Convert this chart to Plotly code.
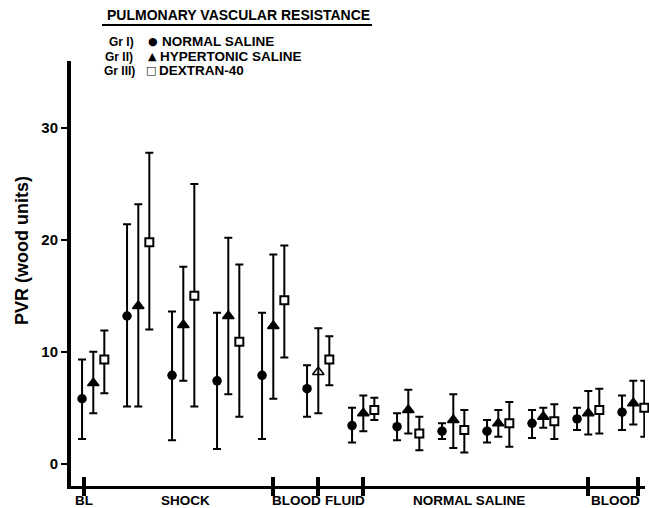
import plotly.graph_objects as go

# ---- data ----
timepoints = list(range(13))  # 13 measurement points along the protocol

gr1_mean = [5.8, 13.2, 7.9, 7.4, 7.9, 6.7, 3.4, 3.3, 2.9, 2.9, 3.6, 4.0, 4.6]
gr1_hi   = [9.3, 21.4, 13.6, 13.5, 13.5, 8.8, 5.0, 4.5, 3.6, 3.9, 4.8, 5.0, 6.1]
gr1_lo   = [2.2, 5.1, 2.1, 1.3, 2.2, 4.2, 1.9, 2.1, 2.2, 1.9, 2.3, 3.0, 3.0]

gr2_mean = [7.2, 14.1, 12.4, 13.2, 12.3, 8.2, 4.5, 4.8, 3.9, 3.6, 4.2, 4.5, 5.4]
gr2_hi   = [10.0, 23.2, 17.6, 20.2, 18.7, 12.1, 6.1, 6.6, 6.2, 4.8, 5.0, 6.5, 7.4]
gr2_lo   = [4.5, 5.1, 7.4, 6.2, 5.8, 4.5, 2.9, 2.7, 1.4, 2.4, 3.2, 2.6, 3.5]

gr3_mean = [9.3, 19.8, 15.0, 10.9, 14.6, 9.3, 4.8, 2.7, 3.0, 3.6, 3.8, 4.8, 5.0]
gr3_hi   = [11.9, 27.8, 25.0, 17.8, 19.5, 11.4, 5.9, 4.2, 4.8, 5.5, 5.3, 6.7, 7.4]
gr3_lo   = [6.3, 12.0, 5.1, 4.2, 9.5, 7.0, 3.9, 1.2, 1.0, 1.5, 2.2, 2.7, 2.4]

phase_labels = ["BL", "SHOCK", "BLOOD", "FLUID", "NORMAL SALINE", "BLOOD"]
phase_label_pos = [-0.2, 2.05, 4.52, 5.6, 8.35, 11.6]
phase_ticks = [-0.2, 4, 5, 6, 11, 12.1]

legend_groups = ["Gr I)", "Gr II)", "Gr III)"]
legend_names = ["NORMAL SALINE", "HYPERTONIC SALINE", "DEXTRAN-40"]
legend_syms = ["\u25CF", "\u25B2", "\u25A1"]

# ---- figure ----
W, H = 649, 508
L, R, T, B = 71, 4, 61, 22
pw, ph = W - L - R, H - T - B

def px_x(p):
    return (p - L) / pw

def px_y(p):
    return (H - B - p) / ph

fig = go.Figure()

def add_group(means, hi, lo, offset, symbols, size, lw, fill):
    xs = [t + offset for t in timepoints]
    fig.add_trace(go.Scatter(
        x=xs, y=means, mode="markers",
        marker=dict(symbol=symbols, size=size, color=fill,
                    line=dict(color="black", width=lw)),
        error_y=dict(type="data", symmetric=False,
                     array=[h - m for h, m in zip(hi, means)],
                     arrayminus=[m - l for m, l in zip(means, lo)],
                     color="black", thickness=2, width=4),
        showlegend=False, cliponaxis=False, hoverinfo="skip"))

add_group(gr1_mean, gr1_hi, gr1_lo, -0.25, "circle", 9.5, 0, "black")
tri_syms = ["triangle-up"] * len(timepoints)
tri_syms[5] = "triangle-up-open"
add_group(gr2_mean, gr2_hi, gr2_lo, 0.0, tri_syms, 10, 1.5, "black")
add_group(gr3_mean, gr3_hi, gr3_lo, 0.245, "square", 8, 2, "white")
# empty trace so the overlay axis (inside tick halves) is drawn
fig.add_trace(go.Scatter(x=[], y=[], xaxis="x2", showlegend=False))

xr = [(L - 93.3) / 45.0, (W - R - 93.3) / 45.0]

fig.update_layout(
    width=W, height=H,
    margin=dict(l=L, r=R, t=T, b=B, pad=0),
    paper_bgcolor="white", plot_bgcolor="white",
    font=dict(family="Liberation Sans", color="black"),
    xaxis=dict(range=xr, showgrid=False, zeroline=False,
               showline=True, linecolor="black", linewidth=3,
               tickmode="array", tickvals=phase_ticks, ticks="outside",
               ticklen=7, tickwidth=4, tickcolor="black",
               showticklabels=False),
    xaxis2=dict(overlaying="x", matches="x", range=xr, showgrid=False,
                zeroline=False, showline=False, tickmode="array",
                tickvals=phase_ticks, ticks="inside", ticklen=9,
                tickwidth=4, tickcolor="black", showticklabels=False,
                side="bottom", anchor="y"),
    yaxis=dict(range=[-2, 36], showgrid=False, zeroline=False,
               showline=True, linecolor="black", linewidth=4,
               tickmode="array", tickvals=[0, 10, 20, 30],
               ticks="outside", ticklen=6, tickwidth=2, tickcolor="black",
               tickfont=dict(size=15, family="Liberation Sans",
                             color="black", weight="bold")),
)

ann = []
for lab, pos in zip(phase_labels, phase_label_pos):
    ann.append(dict(x=pos, y=px_y(500), xref="x", yref="paper",
                    text="<b>%s</b>" % lab, showarrow=False,
                    xanchor="center", yanchor="middle",
                    font=dict(size=13.5, family="Liberation Sans")))

ann.append(dict(x=px_x(22), y=px_y(250), xref="paper", yref="paper",
                text="<b>PVR (wood units)</b>", textangle=-90,
                showarrow=False, xanchor="center", yanchor="middle",
                font=dict(size=18, family="Liberation Sans")))

ann.append(dict(x=px_x(105), y=px_y(15), xref="paper", yref="paper",
                text="<b>PULMONARY VASCULAR RESISTANCE</b>",
                showarrow=False, xanchor="left", yanchor="middle",
                font=dict(size=14, family="Liberation Sans")))

rows_y = [41.7, 56.7, 70.7]
grp_x = [106.7, 103, 101.7]
sym_x = [153, 152, 150.7]
name_x = [160, 158, 157]
for i in range(3):
    ann.append(dict(x=px_x(grp_x[i]), y=px_y(rows_y[i]), xref="paper",
                    yref="paper", text="<b>%s</b>" % legend_groups[i],
                    showarrow=False, xanchor="left", yanchor="middle",
                    font=dict(size=12, family="Liberation Sans")))
    ann.append(dict(x=px_x(sym_x[i]), y=px_y(rows_y[i]), xref="paper",
                    yref="paper", text=legend_syms[i],
                    showarrow=False, xanchor="center", yanchor="middle",
                    font=dict(size=11, family="DejaVu Sans")))
    ann.append(dict(x=px_x(name_x[i]), y=px_y(rows_y[i]), xref="paper",
                    yref="paper", text="<b>%s</b>" % legend_names[i],
                    showarrow=False, xanchor="left", yanchor="middle",
                    font=dict(size=13.5, family="Liberation Sans")))

fig.update_layout(annotations=ann)
fig.add_shape(type="line", xref="paper", yref="paper",
              x0=px_x(102), x1=px_x(372), y0=px_y(25), y1=px_y(25),
              line=dict(color="black", width=2))

fig.write_html("out.html",
               config={"displayModeBar": False},
               post_script="document.body.style.margin='0';"
                           "document.body.style.overflow='hidden';")
